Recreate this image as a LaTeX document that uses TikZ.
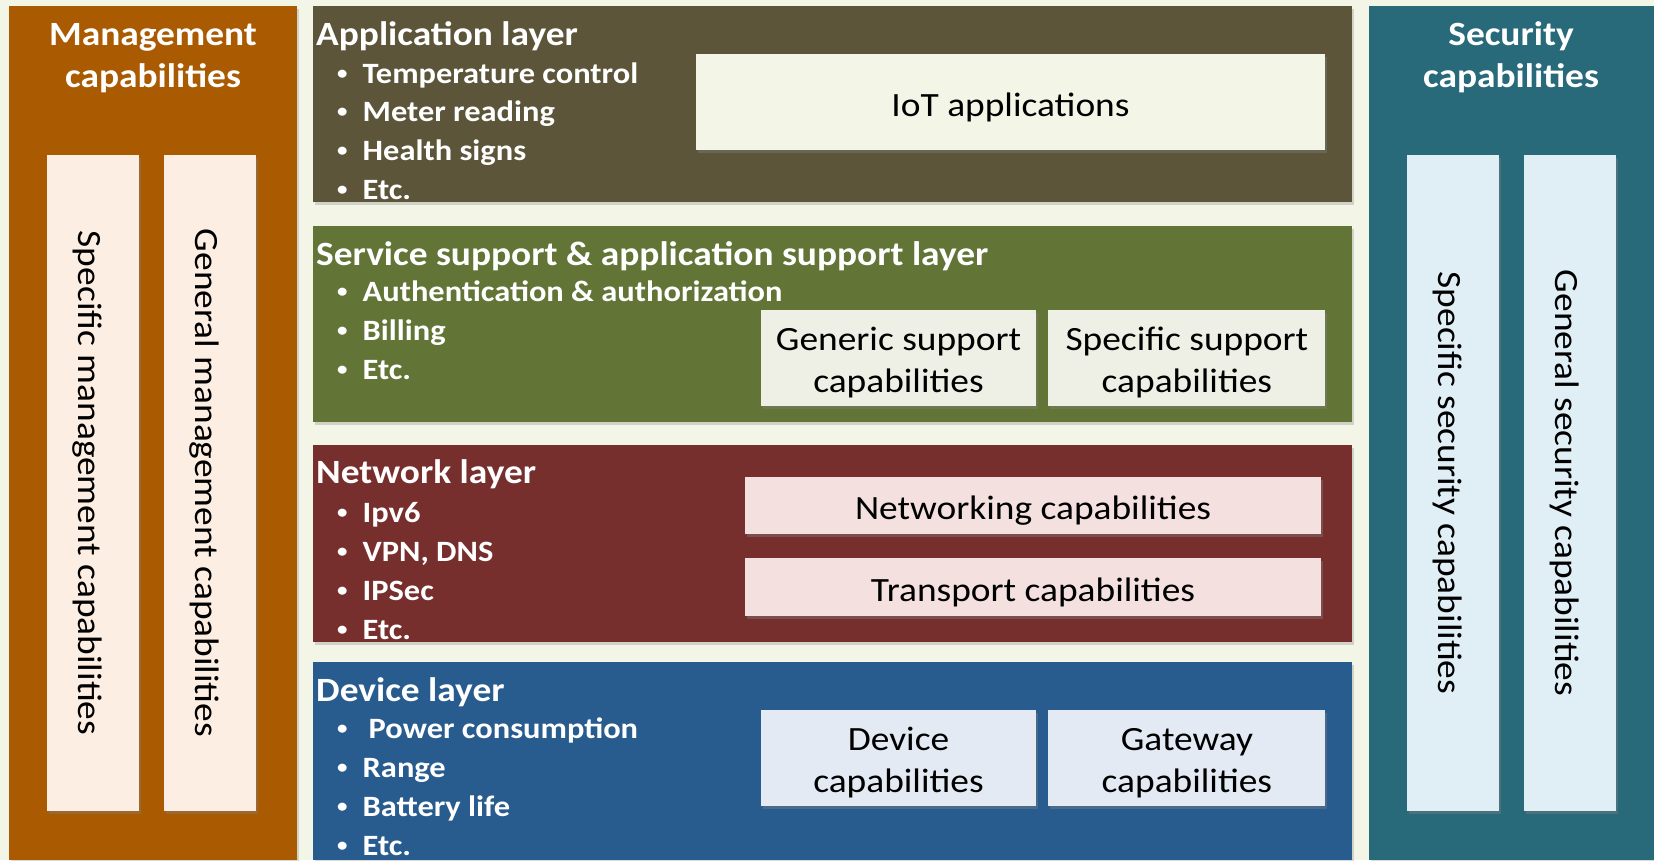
\documentclass[tikz,border=0pt]{standalone}
\usepackage{fontspec}
\setmainfont{Carlito}[FakeStretch=1.1]
\usetikzlibrary{positioning, shadows}

\definecolor{bgcream}{HTML}{F3F5E7}
\definecolor{mgmtorange}{HTML}{AA5A00}
\definecolor{mgmtlight}{HTML}{FDEEE3}
\definecolor{appolive}{HTML}{5C553A}
\definecolor{applight}{HTML}{F3F5E6}
\definecolor{servgreen}{HTML}{627537}
\definecolor{servlight}{HTML}{EEF0E5}
\definecolor{netred}{HTML}{772F2E}
\definecolor{netlight}{HTML}{F3E0DF}
\definecolor{devblue}{HTML}{285C8F}
\definecolor{devlight}{HTML}{E3EAF4}
\definecolor{secteal}{HTML}{296A7A}
\definecolor{seclight}{HTML}{E0EFF6}

\newcommand{\bul}{\makebox[25.5pt][l]{\raisebox{4pt}{\fontsize{19}{19}\selectfont\textbullet}}}

\begin{document}
\begin{tikzpicture}[
    x=1pt, y=-1pt,
    % Core Shapes
    panel/.style={rectangle, anchor=north west, inner sep=0pt, drop shadow={opacity=0.3, shadow xshift=2pt, shadow yshift=-3pt}},
    cap_box/.style={rectangle, inner sep=0pt, align=center, text height=28pt, text depth=0pt, font=\fontsize{34}{42}\selectfont, drop shadow={opacity=0.4, shadow xshift=2pt, shadow yshift=-3pt}},
    two_lines/.style={text height=69.6pt},
    side_title/.style={text=white, inner sep=0pt, anchor=base, align=center, font=\bfseries\fontsize{34}{42}\selectfont},
    layer_title/.style={text=white, anchor=base west, inner sep=0pt, font=\bfseries\fontsize{34}{40}\selectfont},
    item_list/.style={text=white, anchor=base west, inner sep=0pt, align=left, font=\bfseries\fontsize{29.5}{39}\selectfont},
    vlabel/.style={rotate=-90, yshift=-4pt, inner sep=0pt, text height=22pt, text depth=0pt, font=\fontsize{34}{40}\selectfont},
]

\useasboundingbox[fill=bgcream] (0,0) rectangle (1654,860);

% 1. Management capabilities
\node[panel, fill=mgmtorange, minimum width=288pt, minimum height=854pt] (mgmt) at (9,6) {};
\node[side_title] (mgmt_title) at (153,87) {Management\\capabilities};
\node[cap_box, fill=mgmtlight, minimum width=92pt, minimum height=656pt] (mgmt_spec) at (93,483) {};
\node[cap_box, fill=mgmtlight, minimum width=92pt, minimum height=656pt, right=25pt of mgmt_spec] (mgmt_gen) {};
\node[vlabel] (mgmt_spec_text) at (mgmt_spec) {Specific management capabilities};
\node[vlabel] (mgmt_gen_text) at (mgmt_gen) {General management capabilities};

% 2. Application layer
\node[panel, fill=appolive, minimum width=1039pt, minimum height=196pt] (app) at (313,6) {};
\node[layer_title] (app_title) at (316,45) {Application layer};
\node[item_list, font=\bfseries\fontsize{29.5}{38.8}\selectfont] (app_items) at (337,199.5) {\bul Temperature control\\ \bul Meter reading\\ \bul Health signs\\ \bul Etc.};
\node[cap_box, fill=applight, minimum width=629pt, minimum height=96pt] (iot_apps) at (1010.5,102) {IoT applications};

% 3. Service support & application support layer
\node[panel, fill=servgreen, minimum width=1039pt, minimum height=196pt] (serv) at (313,226) {};
\node[layer_title] (serv_title) at (316,265) {Service support \& application support layer};
\node[item_list] (serv_items) at (337,379.5) {\bul Authentication \& authorization\\ \bul Billing\\ \bul Etc.};
\node[cap_box, two_lines, fill=servlight, minimum width=275pt, minimum height=96pt] (generic) at (898.5,358) {Generic support\\capabilities};
\node[cap_box, two_lines, fill=servlight, minimum width=277pt, minimum height=96pt, right=12pt of generic] (specific) {Specific support\\capabilities};

% 4. Network layer
\node[panel, fill=netred, minimum width=1039pt, minimum height=197pt] (net) at (313,445) {};
\node[layer_title] (net_title) at (316,483) {Network layer};
\node[item_list] (net_items) at (337,639) {\bul Ipv6\\ \bul VPN, DNS\\ \bul IPSec\\ \bul Etc.};
\node[cap_box, fill=netlight, minimum width=576pt, minimum height=57pt] (networking) at (1033,505.5) {Networking capabilities};
\node[cap_box, fill=netlight, minimum width=576pt, minimum height=58pt, below=24pt of networking] (transport) {Transport capabilities};

% 5. Device layer
\node[panel, fill=devblue, minimum width=1039pt, minimum height=198pt] (dev) at (313,662) {};
\node[layer_title] (dev_title) at (316,701) {Device layer};
\node[item_list] (dev_items) at (337,855) {\bul\hspace{6pt}Power consumption\\ \bul Range\\ \bul Battery life\\ \bul Etc.};
\node[cap_box, two_lines, fill=devlight, minimum width=275pt, minimum height=96pt] (device_cap) at (898.5,758) {Device\\capabilities};
\node[cap_box, two_lines, fill=devlight, minimum width=277pt, minimum height=96pt, right=12pt of device_cap] (gateway_cap) {Gateway\\capabilities};

% 6. Security capabilities
\node[panel, fill=secteal, minimum width=285pt, minimum height=854pt] (sec) at (1369,6) {};
\node[side_title] (sec_title) at (1511,87) {Security\\capabilities};
\node[cap_box, fill=seclight, minimum width=92pt, minimum height=656pt] (sec_spec) at (1453,483) {};
\node[cap_box, fill=seclight, minimum width=92pt, minimum height=656pt, right=25pt of sec_spec] (sec_gen) {};
\node[vlabel] (sec_spec_text) at (sec_spec) {Specific security capabilities};
\node[vlabel] (sec_gen_text) at (sec_gen) {General security capabilities};

\end{tikzpicture}
\end{document}
